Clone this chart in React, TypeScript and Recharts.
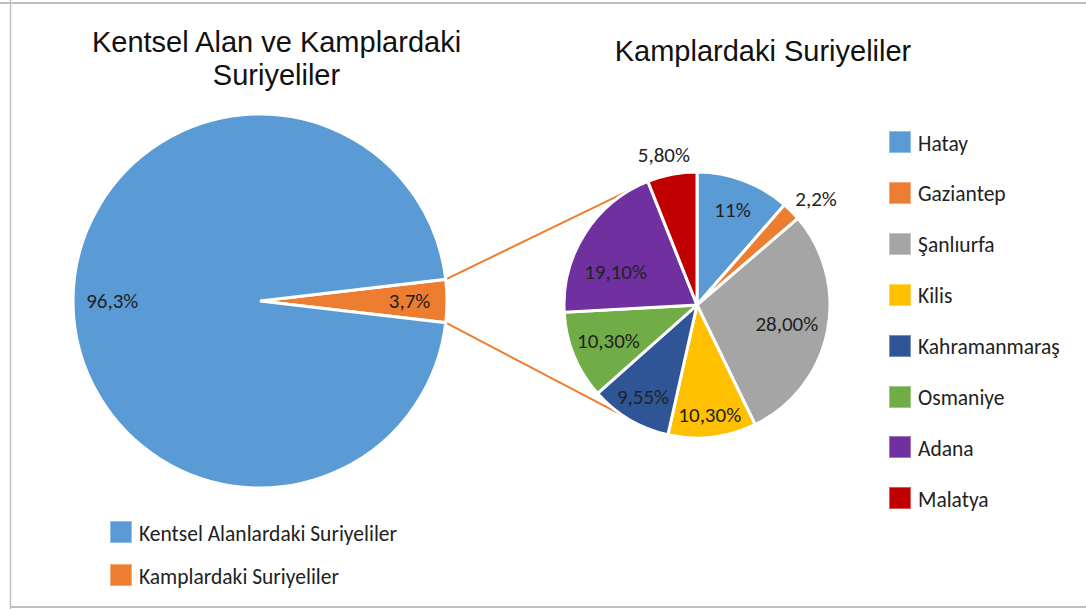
import React from "react";
import { PieChart, Pie, Cell } from "recharts";

const mainNames = ["Kamplardaki Suriyeliler", "Kentsel Alanlardaki Suriyeliler"];
const mainValues = [3.7, 96.3];
const mainLabels = ["3,7%", "96,3%"];
const mainColors = ["#ED7D31", "#5B9BD5"];
const mainLegendOrder = [1, 0];

const campNames = ["Hatay", "Gaziantep", "Şanlıurfa", "Kilis", "Kahramanmaraş", "Osmaniye", "Adana", "Malatya"];
const campValues = [11, 2.2, 28, 10.3, 9.55, 10.3, 19.1, 5.8];
const campLabels = ["11%", "2,2%", "28,00%", "10,30%", "9,55%", "10,30%", "19,10%", "5,80%"];
const campColors = ["#5B9BD5", "#ED7D31", "#A5A5A5", "#FFC000", "#2F5597", "#70AD47", "#7030A0", "#C00000"];

// label placement (style config): radius factor and angle nudge per slice
const campLabelRadius = [0.76, 1.2, 0.69, 0.83, 0.8, 0.72, 0.66, 1.155];
const campLabelShift = [0, -3, 0, 0, 0, 0, 10.7, 1.6];
const mainLabelRadius = [0.8, 0.79];
const mainLabelShift = [0, 0];

const mainData = mainNames.map((n, i) => ({ name: n, value: mainValues[i], label: mainLabels[i], idx: i }));
const campData = campNames.map((n, i) => ({ name: n, value: campValues[i], label: campLabels[i], idx: i }));

const W = 1086;
const H = 609;
const BIG = { cx: 260, cy: 301, r: 187 };
const SMALL = { cx: 697, cy: 305, r: 133 };
const LABEL_FONT = "Calibri, Carlito, Lato, 'Open Sans', sans-serif";
const TITLE_FONT = "Arial, 'Liberation Sans', sans-serif";
const TXT = "#222";

const RAD = Math.PI / 180;
const mainHalf = (mainValues[0] / mainValues.reduce((a, b) => a + b, 0)) * 180;
const campTotal = campValues.reduce((a, b) => a + b, 0);
const lastShare = (campValues[campValues.length - 1] / campTotal) * 360;

const makeLabel = (radii: number[], shifts: number[]) => (props: any) => {
  const { cx, cy, midAngle, outerRadius, payload } = props;
  const i = payload.idx;
  const rr = outerRadius * radii[i];
  const a = (midAngle + shifts[i]) * RAD;
  const x = cx + rr * Math.cos(-a);
  const y = cy + rr * Math.sin(-a);
  return (
    <text x={x} y={y} textAnchor="middle" dominantBaseline="central" fill={TXT} fontSize={21} fontFamily={LABEL_FONT}>
      {payload.label}
    </text>
  );
};

function Connectors() {
  const a1 = mainHalf * RAD;
  const bigTop = { x: BIG.cx + BIG.r * Math.cos(a1), y: BIG.cy - BIG.r * Math.sin(a1) };
  const bigBot = { x: BIG.cx + BIG.r * Math.cos(a1), y: BIG.cy + BIG.r * Math.sin(a1) };
  const a2 = (90 + lastShare) * RAD;
  const smTop = { x: SMALL.cx + SMALL.r * Math.cos(a2), y: SMALL.cy - SMALL.r * Math.sin(a2) };
  const smBot = { x: SMALL.cx + SMALL.r * Math.cos(a2), y: SMALL.cy + SMALL.r * Math.sin(a2) };
  return (
    <svg width={W} height={H} style={{ position: "absolute", left: 0, top: 0 }}>
      <line x1={bigTop.x} y1={bigTop.y} x2={smTop.x} y2={smTop.y} stroke="#ED7D31" strokeWidth={2} />
      <line x1={bigBot.x} y1={bigBot.y} x2={smBot.x} y2={smBot.y} stroke="#ED7D31" strokeWidth={2} />
      <line x1={0} y1={3} x2={W} y2={3} stroke="#BFBFBF" strokeWidth={2} />
      <line x1={10.5} y1={0} x2={10.5} y2={H} stroke="#BFBFBF" strokeWidth={1.5} />
      <line x1={10} y1={607} x2={W} y2={607} stroke="#BFBFBF" strokeWidth={2} />
    </svg>
  );
}

const legendItem = (color: string, text: string, key: string, style: React.CSSProperties) => (
  <div key={key} style={{ position: "absolute", display: "flex", alignItems: "center", ...style }}>
    <div style={{ width: 22, height: 22, background: color, border: "1px solid rgba(255,255,255,0.35)", boxSizing: "border-box", marginRight: 7, flex: "none" }} />
    <span style={{ fontFamily: LABEL_FONT, fontSize: 21.5, color: TXT, whiteSpace: "nowrap", lineHeight: "22px", paddingTop: 3 }}>{text}</span>
  </div>
);

export default function App() {
  return (
    <div style={{ position: "absolute", left: 0, top: 0, width: W, height: H, background: "#fff", overflow: "hidden" }}>
      <Connectors />
      <div style={{ position: "absolute", left: 0, top: 0 }}>
        <PieChart width={W} height={H} margin={{ top: 0, right: 0, bottom: 0, left: 0 }}>
          <Pie
            data={mainData}
            dataKey="value"
            nameKey="name"
            cx={BIG.cx}
            cy={BIG.cy}
            outerRadius={BIG.r}
            startAngle={mainHalf}
            endAngle={mainHalf - 360}
            stroke="#fff"
            strokeWidth={3}
            isAnimationActive={false}
            labelLine={false}
            label={makeLabel(mainLabelRadius, mainLabelShift)}
          >
            {mainData.map((d, i) => (
              <Cell key={d.name} fill={mainColors[i]} />
            ))}
          </Pie>
          <Pie
            data={campData}
            dataKey="value"
            nameKey="name"
            cx={SMALL.cx}
            cy={SMALL.cy}
            outerRadius={SMALL.r}
            startAngle={90}
            endAngle={-270}
            stroke="#fff"
            strokeWidth={3}
            isAnimationActive={false}
            labelLine={false}
            label={makeLabel(campLabelRadius, campLabelShift)}
          >
            {campData.map((d, i) => (
              <Cell key={d.name} fill={campColors[i]} />
            ))}
          </Pie>
        </PieChart>
      </div>
      <div style={{ position: "absolute", left: 0, width: 553, top: 26, textAlign: "center", fontFamily: TITLE_FONT, fontSize: 29, lineHeight: "33px", color: "#111" }}>
        Kentsel Alan ve Kamplardaki
        <br />
        Suriyeliler
      </div>
      <div style={{ position: "absolute", left: 563, width: 400, top: 35, textAlign: "center", fontFamily: TITLE_FONT, fontSize: 29, lineHeight: "33px", color: "#111" }}>
        Kamplardaki Suriyeliler
      </div>
      {mainLegendOrder.map((idx, k) =>
        legendItem(mainColors[idx], mainNames[idx], "m" + idx, { left: 110, top: 521 + k * 43, height: 22 })
      )}
      {campNames.map((n, i) => legendItem(campColors[i], n, "c" + i, { left: 889, top: 131 + i * 50.9, height: 22 }))}
    </div>
  );
}
